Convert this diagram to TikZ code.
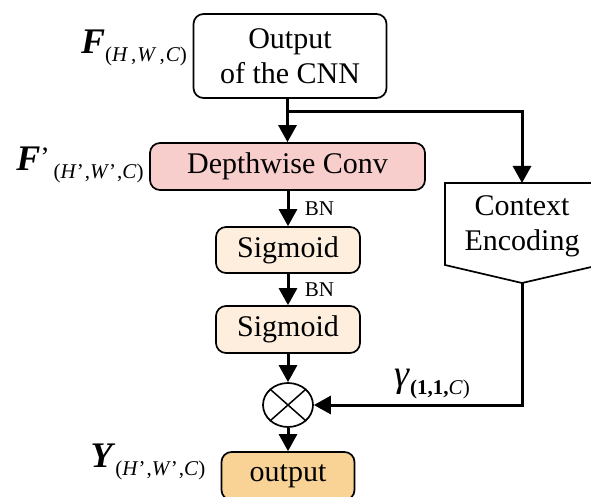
\documentclass[tikz,border=0pt]{standalone}
\usepackage{fontspec}
\setmainfont{Liberation Serif}
\usetikzlibrary{arrows.meta,shapes.geometric}

\definecolor{convred}{HTML}{F8CECC}
\definecolor{sigcream}{HTML}{FDEEDD}
\definecolor{outorange}{HTML}{F9D395}

% feature map label: bold italic letter with a small subscript
\newcommand{\featlbl}[2]{\textbf{\textit{#1}}\raisebox{-8pt}{\fontsize{21}{21}\selectfont #2}}
\newcommand{\sep}{\kern3pt,\kern1pt}

\begin{document}
\begin{tikzpicture}[x=1pt, y=-1pt,
		blk/.style={draw, line width=1.7pt, rounded corners=10pt, font=\fontsize{30}{35}\selectfont, align=center, inner sep=0pt},
		flow/.style={line width=3pt, -{Triangle[length=17pt,width=18pt]}},
		bnlbl/.style={font=\fontsize{21}{21}\selectfont, anchor=west}]
					\useasboundingbox (0,0) rectangle (591,497);
					\draw (290,56) node[blk, minimum width=193pt, minimum height=84pt] (cnn) {Output\\of the CNN};
					\draw (287.5,166.5) node[blk, fill=convred, minimum width=275pt, minimum height=47pt] (dw) {Depthwise Conv};
					\draw (288,250) node[blk, fill=sigcream, minimum width=144pt, minimum height=46pt] (sig1) {Sigmoid};
					\draw (288,329.5) node[blk, fill=sigcream, minimum width=144pt, minimum height=47pt] (sig2) {Sigmoid};
					\draw (288,405) node[draw, line width=1.7pt, ellipse, minimum width=50pt, minimum height=44pt, inner sep=0pt] (mul) {};
					\draw[line width=1.5pt] (mul.north east) -- (mul.south west) (mul.north west) -- (mul.south east);
					\draw (288,476) node[blk, fill=outorange, minimum width=133pt, minimum height=48pt] (out) {output};
					% context encoding block
					\draw[line width=1.7pt] (445,183) -- (600,183) -- (600,265) -- (522,283) -- (445,265) -- cycle;
					\draw (522,226) node[font=\fontsize{30}{35}\selectfont, align=center] (ctx) {Context\\Encoding};
					\coordinate (ctxin) at (522,183);
					\coordinate (ctxout) at (522,283);
					\coordinate (split) at (288,112);
					% connectors
					\draw[flow] (cnn.south -| dw.north) -- (dw.north);
					\draw[flow] (split) -| (ctxin);
					\draw[flow] (dw.south -| sig1.north) -- (sig1.north) node[bnlbl, midway, xshift=12pt] () {BN};
					\draw[flow] (sig1.south) -- (sig2.north) node[bnlbl, midway, xshift=12pt] () {BN};
					\draw[flow] (sig2.south) -- (mul.north);
					\draw[flow] (mul.south) -- (out.north);
					\draw[flow] (ctxout) |- (mul.east);
					% labels
					\draw (134,48) node[font=\fontsize{36}{36}\selectfont] (lblF) {\featlbl{F}{(\textit{H}\sep\textit{W}\sep\textit{C})}};
					\draw (80,165) node[font=\fontsize{36}{36}\selectfont] (lblFp) {\featlbl{F}{\raisebox{12pt}{\fontsize{28}{28}\selectfont '}\kern4pt(\textit{H}'\kern1pt,\textit{W}'\kern1pt,\textit{C})}};
					\draw (148,462) node[font=\fontsize{36}{36}\selectfont] (lblY) {\featlbl{Y}{(\textit{H}'\kern1pt,\textit{W}'\kern1pt,\textit{C})}};
					\draw (432,384) node[font=\fontsize{38}{38}\selectfont] (lblg) {\textit{γ}\raisebox{-8pt}{\fontsize{21}{21}\selectfont\textbf{(1,1,}\textit{C})}};
				\end{tikzpicture}
\end{document}
